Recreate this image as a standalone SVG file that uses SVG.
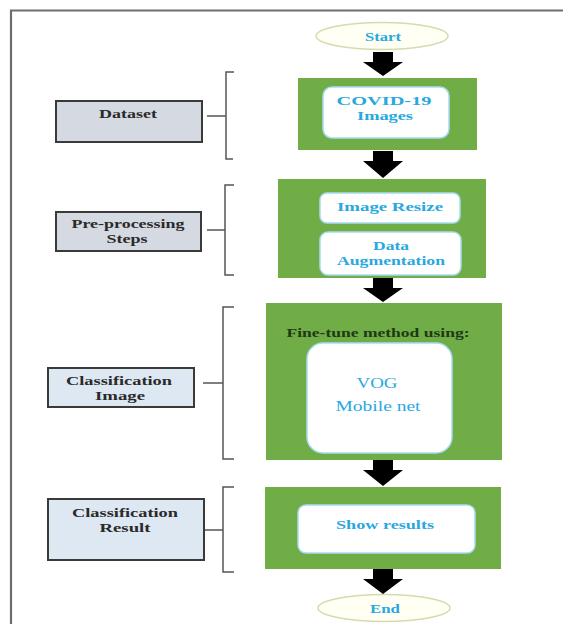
<svg xmlns="http://www.w3.org/2000/svg" width="563" height="624" viewBox="0 0 563 624">
<style>
.frame{fill:none;stroke:#6e6e6e;stroke-width:2.2}
.green{fill:#70ad47}
.inner{fill:#ffffff;stroke:#a6dcf2;stroke-width:1.5}
.term{fill:#fffff4;stroke:#d3dcae;stroke-width:1.5}
.lab1{fill:#d5d9e2;stroke:#3a3a3a;stroke-width:2}
.lab2{fill:#dee8f3;stroke:#3a3a3a;stroke-width:2}
.bt{font-family:"Liberation Serif","Times New Roman",serif;font-weight:bold;font-size:13px;fill:#29a8e0;text-anchor:middle;dominant-baseline:central}
.bn{font-family:"Liberation Serif","Times New Roman",serif;font-size:14px;fill:#29a8e0;text-anchor:middle;dominant-baseline:central}
.lt{font-family:"Liberation Serif","Times New Roman",serif;font-weight:bold;font-size:13px;fill:#2a2a2a;text-anchor:middle;dominant-baseline:central}
.ft{font-family:"Liberation Serif","Times New Roman",serif;font-weight:bold;font-size:13px;fill:#1e3a14;text-anchor:middle;dominant-baseline:central}
.arrow{fill:#000}
.br{fill:none;stroke:#555;stroke-width:1.5}
</style>
<rect x="0" y="0" width="563" height="624" fill="#ffffff"/>
<path class="frame" d="M11,624 V10.5 H563"/>

<g id="start">
<ellipse class="term" cx="382" cy="36" rx="66" ry="13.5"/>
<text class="bt" x="383" y="36" font-size="12" textLength="36" lengthAdjust="spacingAndGlyphs">Start</text>
</g>

<g id="dataset-step">
<rect class="green" x="298" y="78" width="179" height="72"/>
<rect class="inner" x="323" y="87" width="126" height="51" rx="9"/>
<text class="bt" x="384" y="100" textLength="95" lengthAdjust="spacingAndGlyphs">COVID-19</text>
<text class="bt" x="385" y="115" textLength="56" lengthAdjust="spacingAndGlyphs">Images</text>
</g>

<g id="preprocessing-step">
<rect class="green" x="278" y="179" width="208" height="99"/>
<rect class="inner" x="320" y="193" width="140" height="30" rx="7"/>
<text class="bt" x="390" y="206" textLength="106" lengthAdjust="spacingAndGlyphs">Image Resize</text>
<rect class="inner" x="320" y="232" width="141" height="43" rx="8"/>
<text class="bt" x="391" y="245" textLength="36" lengthAdjust="spacingAndGlyphs">Data</text>
<text class="bt" x="391" y="260" textLength="108" lengthAdjust="spacingAndGlyphs">Augmentation</text>
</g>

<g id="classification-step">
<rect class="green" x="266" y="303" width="236" height="157"/>
<text class="ft" x="378" y="332" textLength="183" lengthAdjust="spacingAndGlyphs">Fine-tune method using:</text>
<rect class="inner" x="307" y="343" width="145" height="110" rx="16"/>
<text class="bn" x="377" y="383" textLength="41" lengthAdjust="spacingAndGlyphs">VOG</text>
<text class="bn" x="378" y="406" textLength="85" lengthAdjust="spacingAndGlyphs">Mobile net</text>
</g>

<g id="result-step">
<rect class="green" x="265" y="487" width="236" height="82"/>
<rect class="inner" x="298" y="505" width="177" height="48" rx="8"/>
<text class="bt" x="385" y="524" textLength="98" lengthAdjust="spacingAndGlyphs">Show results</text>
</g>

<g id="end">
<ellipse class="term" cx="384" cy="608" rx="66" ry="13.5"/>
<text class="bt" x="385" y="608" font-size="12" textLength="30" lengthAdjust="spacingAndGlyphs">End</text>
</g>

<g id="label-dataset">
<rect class="lab1" x="56" y="101" width="146" height="41"/>
<text class="lt" x="128" y="113" textLength="58" lengthAdjust="spacingAndGlyphs">Dataset</text>
</g>

<g id="label-preprocessing">
<rect class="lab1" x="56" y="212" width="145" height="39"/>
<text class="lt" x="128" y="223" textLength="113" lengthAdjust="spacingAndGlyphs">Pre-processing</text>
<text class="lt" x="127" y="238" textLength="41" lengthAdjust="spacingAndGlyphs">Steps</text>
</g>

<g id="label-classification-image">
<rect class="lab2" x="48" y="368" width="146" height="39"/>
<text class="lt" x="119" y="380" textLength="106" lengthAdjust="spacingAndGlyphs">Classification</text>
<text class="lt" x="120" y="395" textLength="50" lengthAdjust="spacingAndGlyphs">Image</text>
</g>

<g id="label-classification-result">
<rect class="lab2" x="48" y="499" width="156" height="61"/>
<text class="lt" x="125" y="512" textLength="106" lengthAdjust="spacingAndGlyphs">Classification</text>
<text class="lt" x="125" y="527" textLength="51" lengthAdjust="spacingAndGlyphs">Result</text>
</g>

<g id="connectors">
<polygon class="arrow" points="373,52 393,52 393,62 403,62 383,76 363,62 373,62"/>
<polygon class="arrow" points="373,151 393,151 393,161 403,161 383,178 363,161 373,161"/>
<polygon class="arrow" points="373,278 393,278 393,288 403,288 383,302 363,288 373,288"/>
<polygon class="arrow" points="373,460 393,460 393,470 403,470 383,486 363,470 373,470"/>
<polygon class="arrow" points="373,569 393,569 393,579 403,579 383,594 363,579 373,579"/>
<path class="br" d="M234,72 H226 V159 H233 M207,116 H226"/>
<path class="br" d="M234,185 H225 V275 H234 M207,230 H225"/>
<path class="br" d="M234,307 H223 V459 H234 M203,383 H223"/>
<path class="br" d="M234,487 H223 V572 H234 M205,530 H223"/>
</g>
</svg>
